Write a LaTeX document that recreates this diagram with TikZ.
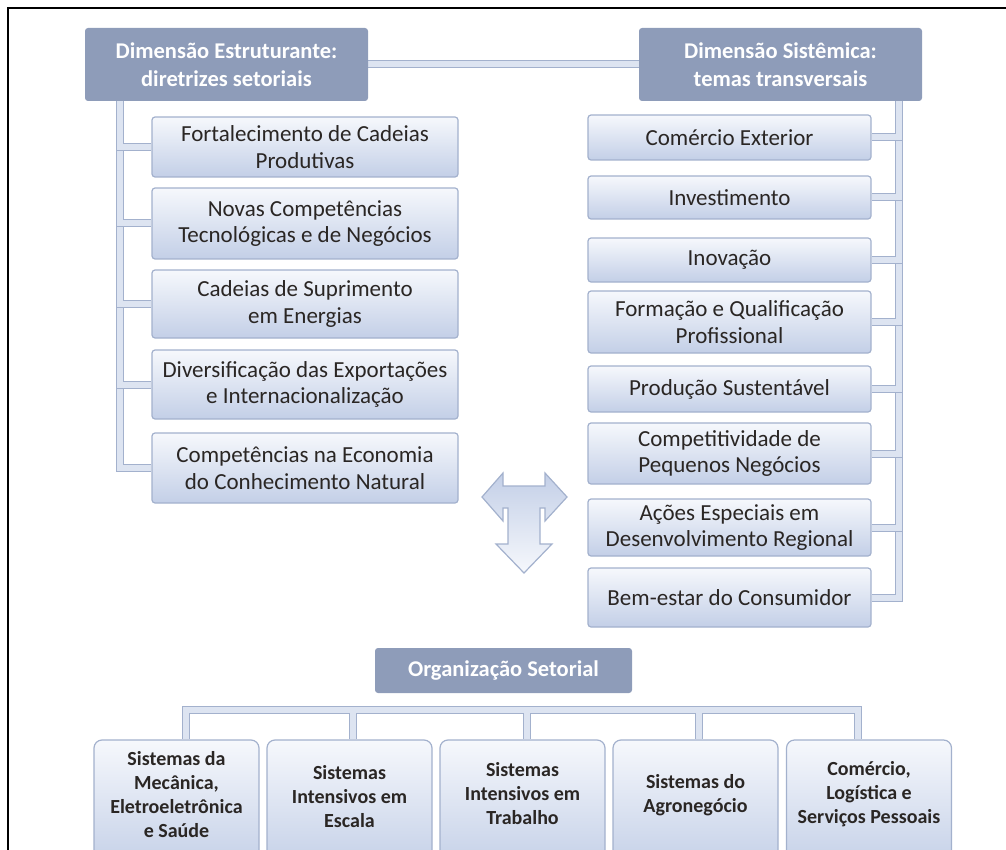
\documentclass[tikz,border=0pt]{standalone}
\usepackage{fontspec}
\setmainfont{Carlito}
\usetikzlibrary{backgrounds}

\definecolor{hdr}{HTML}{8E9CB9}
\definecolor{edge}{HTML}{A3B1CD}
\definecolor{boxtop}{HTML}{F6F8FC}
\definecolor{boxbot}{HTML}{C3CFE7}
\definecolor{txt}{HTML}{2A2624}
\definecolor{linkfill}{HTML}{DDE4F1}

\tikzset{
  header/.style={fill=hdr, rounded corners=3pt, text=white, align=center,
    font=\bfseries\fontsize{22.5}{28}\selectfont, inner sep=0pt},
  itembox/.style={draw=edge, line width=1.2pt, top color=boxtop, bottom color=boxbot,
    rounded corners=3pt, text=txt, align=center,
    font=\fontsize{23}{26.5}\selectfont, inner sep=0pt},
  sectorbox/.style={draw=edge, line width=1.2pt, top color=boxtop, bottom color=boxbot,
    rounded corners=8pt, minimum width=165pt, minimum height=130pt, inner sep=0pt},
  sectortext/.style={text=txt, align=center, font=\bfseries\fontsize{20}{24}\selectfont, inner sep=0pt},
  link/.style={draw=edge, line width=1pt, double=linkfill, double distance=6pt, line cap=butt},
  tarrow/.style={draw=edge, line width=1.2pt, top color=boxbot, bottom color=boxtop, line join=miter}
}

\begin{document}
\begin{tikzpicture}[x=1pt, y=-1pt]
\useasboundingbox (0,0) rectangle (1006,850);
\clip (0,0) rectangle (1006,850);

% page frame
\draw[line width=2pt] (8,852) -- (8,8) -- (1008,8);

% headers
\node[header, minimum width=283pt, minimum height=73pt] (lh) at (226.5,64.5)
  {Dimensão Estruturante:\\diretrizes setoriais};
\node[header, minimum width=283pt, minimum height=73pt] (rh) at (780.5,64.5)
  {Dimensão Sistêmica:\\temas transversais};

% sectoral guidelines
\node[itembox, minimum width=306pt, minimum height=60pt] (l1) at (305,147)
  {Fortalecimento de Cadeias\\Produtivas};
\node[itembox, minimum width=306pt, minimum height=71pt] (l2) at (305,223.5)
  {Novas Competências\\Tecnológicas e de Negócios};
\node[itembox, minimum width=306pt, minimum height=68pt] (l3) at (305,304)
  {Cadeias de Suprimento\\em Energias};
\node[itembox, minimum width=306pt, minimum height=69pt] (l4) at (305,384.5)
  {Diversificação das Exportações\\e Internacionalização};
\node[itembox, minimum width=306pt, minimum height=70pt] (l5) at (305,468)
  {Competências na Economia\\do Conhecimento Natural};

% transversal themes
\node[itembox, minimum width=283pt, minimum height=45pt] (r1) at (729.5,137.5) {Comércio Exterior};
\node[itembox, minimum width=283pt, minimum height=43pt] (r2) at (729.5,197.5) {Investimento};
\node[itembox, minimum width=283pt, minimum height=44pt] (r3) at (729.5,260) {Inovação};
\node[itembox, minimum width=283pt, minimum height=62pt] (r4) at (729.5,322)
  {Formação e Qualificação\\Profissional};
\node[itembox, minimum width=283pt, minimum height=46pt] (r5) at (729.5,389) {Produção Sustentável};
\node[itembox, minimum width=283pt, minimum height=61pt] (r6) at (729.5,453.5)
  {Competitividade de\\Pequenos Negócios};
\node[itembox, minimum width=283pt, minimum height=57pt] (r7) at (729.5,527.5)
  {Ações Especiais em\\Desenvolvimento Regional};
\node[itembox, minimum width=283pt, minimum height=59pt] (r8) at (729.5,597.5)
  {Bem-estar do Consumidor};

% sectoral organisation
\node[header, minimum width=257pt, minimum height=45pt] (org) at (503.5,670.5)
  {Organização Setorial};

\node[sectorbox] (b1) at (176.5,805) {};
\node[sectorbox] (b2) at (349.5,805) {};
\node[sectorbox] (b3) at (522.5,805) {};
\node[sectorbox] (b4) at (695.5,805) {};
\node[sectorbox] (b5) at (869,805) {};
\node[sectortext] (t1) at ([yshift=10pt]b1.center) {Sistemas da\\Mecânica,\\Eletroeletrônica\\e Saúde};
\node[sectortext] (t2) at ([yshift=8pt]b2.center) {Sistemas\\Intensivos em\\Escala};
\node[sectortext] (t3) at ([yshift=11pt]b3.center) {Sistemas\\Intensivos em\\Trabalho};
\node[sectortext] (t4) at ([yshift=10pt]b4.center) {Sistemas do\\Agronegócio};
\node[sectortext] (t5) at ([yshift=11pt]b5.center) {Comércio,\\Logística e\\Serviços Pessoais};

% connectors
\coordinate (lspine) at ([xshift=35pt,yshift=2pt]lh.south west);
\coordinate (rspine) at ([xshift=-23pt,yshift=2pt]rh.south east);
\coordinate (band) at ([yshift=-17pt]org.south);
\coordinate (k1) at ([xshift=9.5pt]b1.north);
\coordinate (k2) at ([xshift=3.5pt]b2.north);
\coordinate (k3) at ([xshift=4.5pt]b3.north);
\coordinate (k4) at ([xshift=3.5pt]b4.north);
\coordinate (k5) at ([xshift=-11pt]b5.north);

\begin{scope}[on background layer]
  \draw[link] (lh.east) -- (lh.east -| rh.west);
  \foreach \n in {5,4,3,2,1} { \draw[link] (lspine) |- (l\n.west); }
  \foreach \n in {8,7,6,5,4,3,2,1} { \draw[link] (rspine) |- (r\n.east); }
  \draw[link] (k1) -- (k1 |- band) -- (k5 |- band) -- (k5)
              (k2) -- (k2 |- band) (k3) -- (k3 |- band) (k4) -- (k4 |- band);
\end{scope}

% two-way / downward arrow
\path[tarrow] (482,497) -- (503,473) -- (503,486) -- (545,486) -- (545,473)
  -- (567,497) -- (545,521) -- (545,508) -- (540,508) -- (540,544) -- (552,544)
  -- (524,573) -- (496,544) -- (508,544) -- (508,508) -- (503,508) -- (503,521) -- cycle;
\end{tikzpicture}
\end{document}
